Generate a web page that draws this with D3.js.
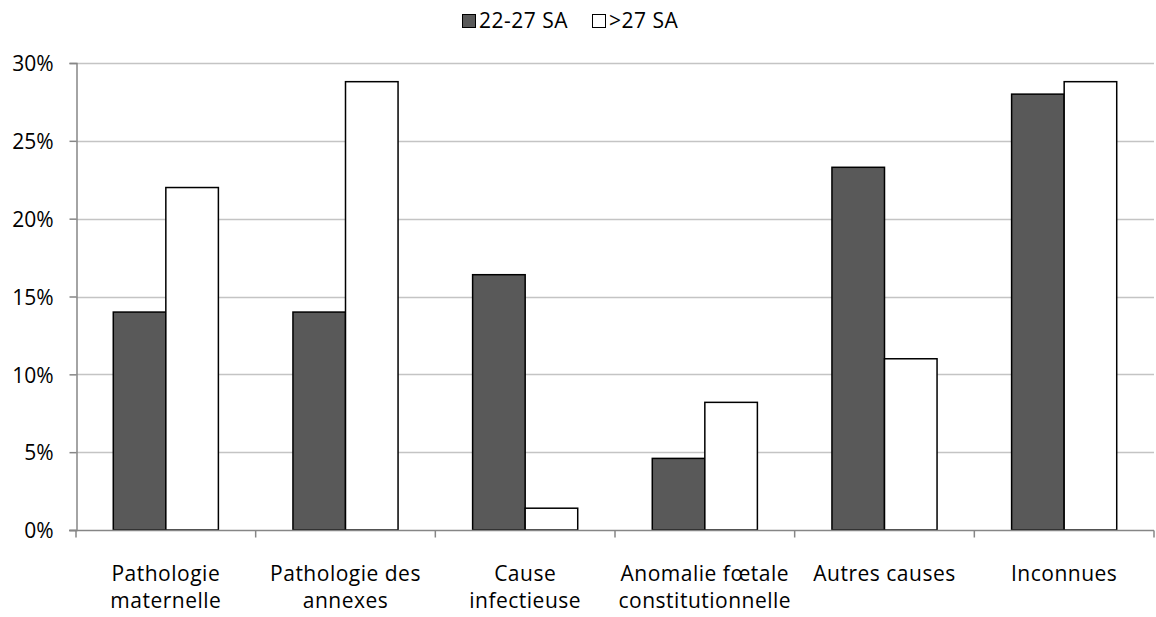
<!DOCTYPE html>
<html>
<head>
<meta charset="utf-8">
<script src="https://cdn.jsdelivr.net/npm/d3@7"></script>
<style>
  html, body { margin: 0; padding: 0; background: #fff; }
  svg text { font-family: "Open Sans", Lato, sans-serif; fill: #000; }
</style>
</head>
<body>
<svg id="chart" width="1156" height="617"></svg>
<script>
// Causes of stillbirth by gestational age group
const categories = [
  ["Pathologie", "maternelle"],
  ["Pathologie des", "annexes"],
  ["Cause", "infectieuse"],
  ["Anomalie fœtale", "constitutionnelle"],
  ["Autres causes"],
  ["Inconnues"]
];
const seriesNames = ["22-27 SA", ">27 SA"];
const early = [14.0, 14.0, 16.4, 4.6, 23.3, 28.0];   // 22-27 SA
const late  = [22.0, 28.8, 1.4, 8.2, 11.0, 28.8];    // >27 SA
const yTicks = [0, 5, 10, 15, 20, 25, 30];
const colors = ["#595959", "#ffffff"];

const svg = d3.select("#chart");
const plotLeft = 76, plotRight = 1154, plotTop = 63, plotBottom = 530;
const fontSize = 21;

const x0 = d3.scaleBand()
  .domain(d3.range(categories.length))
  .range([plotLeft, plotRight])
  .paddingInner(0.415)
  .paddingOuter(0.2075);
const x1 = d3.scaleBand()
  .domain([0, 1])
  .range([0, x0.bandwidth()]);
const y = d3.scaleLinear().domain([0, 30]).range([plotBottom, plotTop]);

// horizontal gridlines
svg.append("g")
  .selectAll("line")
  .data(yTicks.filter(t => t > 0))
  .join("line")
  .attr("x1", plotLeft).attr("x2", plotRight)
  .attr("y1", d => Math.round(y(d)) + 0.5).attr("y2", d => Math.round(y(d)) + 0.5)
  .attr("stroke", "#c4c4c4").attr("stroke-width", 1.5);

// y axis
const yAxis = svg.append("g")
  .attr("transform", `translate(${plotLeft + 0.5},0)`)
  .call(d3.axisLeft(y).tickValues(yTicks).tickFormat(d => d + "%").tickSize(7).tickPadding(16));
yAxis.select(".domain").attr("stroke", "#868686").attr("stroke-width", 1.5);
yAxis.selectAll(".tick line").attr("stroke", "#868686").attr("stroke-width", 1.5);
yAxis.selectAll("text")
  .attr("font-size", fontSize)
  .attr("font-family", null)
  .attr("dy", "0.37em");

// bars
const series = [early, late];
const groups = svg.append("g")
  .selectAll("g")
  .data(categories.map((c, i) => i))
  .join("g")
  .attr("transform", i => `translate(${x0(i)},0)`);
groups.selectAll("rect")
  .data(i => [0, 1].map(s => ({ s, v: series[s][i] })))
  .join("rect")
  .attr("x", d => x1(d.s))
  .attr("y", d => y(d.v))
  .attr("width", x1.bandwidth())
  .attr("height", d => y(0) - y(d.v))
  .attr("fill", d => colors[d.s])
  .attr("stroke", "#000")
  .attr("stroke-width", 1.5);

// x axis with boundary ticks between categories
const xAxis = svg.append("g").attr("transform", `translate(0,${plotBottom + 0.5})`);
xAxis.append("line")
  .attr("x1", plotLeft - 7).attr("x2", plotRight)
  .attr("stroke", "#868686").attr("stroke-width", 1.5);
const step = x0.step();
xAxis.selectAll(".bt")
  .data(d3.range(categories.length + 1))
  .join("line")
  .attr("class", "bt")
  .attr("x1", i => plotLeft + i * step).attr("x2", i => plotLeft + i * step)
  .attr("y1", 0).attr("y2", 7)
  .attr("stroke", "#868686").attr("stroke-width", 1.5);

const labels = xAxis.selectAll(".cat")
  .data(categories)
  .join("text")
  .attr("class", "cat")
  .attr("text-anchor", "middle")
  .attr("font-size", fontSize)
  .attr("letter-spacing", 0.5)
  .attr("x", (c, i) => x0(i) + x0.bandwidth() / 2)
  .attr("y", 50);
labels.selectAll("tspan")
  .data(c => c)
  .join("tspan")
  .attr("x", function () { return d3.select(this.parentNode).attr("x"); })
  .attr("dy", (d, j) => j === 0 ? 0 : 27.5)
  .text(d => d);

// legend
const legend = svg.append("g").attr("transform", "translate(462,14)");
const legendX = [0, 130];
seriesNames.forEach((name, i) => {
  const g = legend.append("g").attr("transform", `translate(${legendX[i]},0)`);
  g.append("rect")
    .attr("x", 0.5).attr("y", 0.5)
    .attr("width", 13).attr("height", 13)
    .attr("fill", colors[i]).attr("stroke", "#000").attr("stroke-width", 1);
  g.append("text")
    .attr("x", 17).attr("y", 14)
    .attr("font-size", fontSize)
    .attr("letter-spacing", 0.5)
    .text(name);
});
</script>
</body>
</html>
